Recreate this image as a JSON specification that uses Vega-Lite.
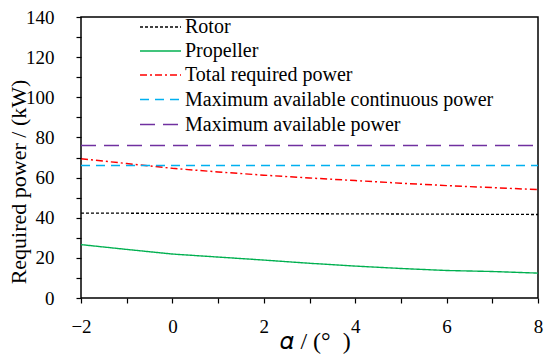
{
  "$schema": "https://vega.github.io/schema/vega-lite/v6.json",
  "width": 457,
  "height": 281,
  "autosize": "none",
  "padding": {"left": 81, "top": 17, "right": 12, "bottom": 62},
  "background": "white",
  "config": {
    "font": "Liberation Serif",
    "view": {"stroke": "black", "strokeWidth": 1.5},
    "axis": {"grid": false, "domain": false, "tickColor": "black", "tickWidth": 1.2, "labelColor": "black", "labelFont": "Liberation Serif", "titleFont": "Liberation Serif", "titleFontWeight": "normal", "titleColor": "black"},
    "legend": {"padding": 0, "rowPadding": 3, "labelFont": "Liberation Serif", "labelFontSize": 20, "labelColor": "black", "symbolType": "M-2,0H2", "symbolSize": 420, "labelOffset": 13, "labelLimit": 400}
  },
  "data": {
    "values": [
      {"alpha": -2, "power": 42.3, "series": "Rotor"},
      {"alpha": 3, "power": 42.0, "series": "Rotor"},
      {"alpha": 8, "power": 41.6, "series": "Rotor"},
      {"alpha": -2, "power": 26.6, "series": "Propeller"},
      {"alpha": -1, "power": 24.2, "series": "Propeller"},
      {"alpha": 0, "power": 21.9, "series": "Propeller"},
      {"alpha": 1, "power": 20.4, "series": "Propeller"},
      {"alpha": 2, "power": 18.9, "series": "Propeller"},
      {"alpha": 3, "power": 17.3, "series": "Propeller"},
      {"alpha": 4, "power": 15.9, "series": "Propeller"},
      {"alpha": 5, "power": 14.7, "series": "Propeller"},
      {"alpha": 6, "power": 13.7, "series": "Propeller"},
      {"alpha": 7, "power": 13.2, "series": "Propeller"},
      {"alpha": 8, "power": 12.4, "series": "Propeller"},
      {"alpha": -2, "power": 69.4, "series": "Total required power"},
      {"alpha": -1, "power": 67.0, "series": "Total required power"},
      {"alpha": 0, "power": 64.6, "series": "Total required power"},
      {"alpha": 1, "power": 62.8, "series": "Total required power"},
      {"alpha": 2, "power": 61.2, "series": "Total required power"},
      {"alpha": 3, "power": 59.8, "series": "Total required power"},
      {"alpha": 4, "power": 58.5, "series": "Total required power"},
      {"alpha": 5, "power": 57.2, "series": "Total required power"},
      {"alpha": 6, "power": 56.0, "series": "Total required power"},
      {"alpha": 7, "power": 55.0, "series": "Total required power"},
      {"alpha": 8, "power": 54.0, "series": "Total required power"},
      {"alpha": -2, "power": 66, "series": "Maximum available continuous power"},
      {"alpha": 8, "power": 66, "series": "Maximum available continuous power"},
      {"alpha": -2, "power": 76, "series": "Maximum available power"},
      {"alpha": 8, "power": 76, "series": "Maximum available power"}
    ]
  },
  "mark": {"type": "line", "clip": true},
  "encoding": {
    "x": {
      "field": "alpha", "type": "quantitative",
      "scale": {"domain": [-2, 8], "nice": false, "zero": false},
      "axis": {"zindex": 1, "ticks": true, "tickSize": 5, "labelFontSize": 19, "values": [-2, -1, 0, 1, 2, 3, 4, 5, 6, 7, 8], "labelExpr": "datum.value % 2 == 0 ? datum.label : ''", "labelPadding": 14, "labelFlush": false, "title": "𝛼 / (°\u00a0\u00a0)", "titleFontSize": 24, "titleX": 234, "titleY": 50, "titleBaseline": "alphabetic"}
    },
    "y": {
      "field": "power", "type": "quantitative",
      "scale": {"domain": [0, 140], "nice": false},
      "axis": {"zindex": 1, "ticks": true, "tickSize": 5, "labelFontSize": 19, "values": [0, 10, 20, 30, 40, 50, 60, 70, 80, 90, 100, 110, 120, 130, 140], "labelExpr": "datum.value % 20 == 0 ? datum.label : ''", "labelPadding": 22, "labelFlush": false, "title": "Required power / (kW)", "titleFontSize": 22, "titleX": -63, "titleY": 164.5, "titleBaseline": "middle", "titleAngle": -90}
    },
    "color": {
      "field": "series", "type": "nominal",
      "scale": {"domain": ["Rotor", "Propeller", "Total required power", "Maximum available continuous power", "Maximum available power"], "range": ["#000000", "#00b050", "#ff0000", "#00b0f0", "#7030a0"]},
      "legend": {"title": null, "orient": "none", "legendX": 68, "legendY": -1}
    },
    "strokeDash": {
      "field": "series", "type": "nominal",
      "scale": {"domain": ["Rotor", "Propeller", "Total required power", "Maximum available continuous power", "Maximum available power"], "range": [[3, 2], [1, 0], [7, 3, 2, 3], [9, 6], [15, 8]]},
      "legend": {"title": null, "orient": "none", "legendX": 68, "legendY": -1}
    },
    "strokeWidth": {
      "field": "series", "type": "nominal",
      "scale": {"domain": ["Rotor", "Propeller", "Total required power", "Maximum available continuous power", "Maximum available power"], "range": [1.3, 1.6, 1.6, 3, 2.5]},
      "legend": {"title": null, "orient": "none", "legendX": 68, "legendY": -1}
    }
  }
}
